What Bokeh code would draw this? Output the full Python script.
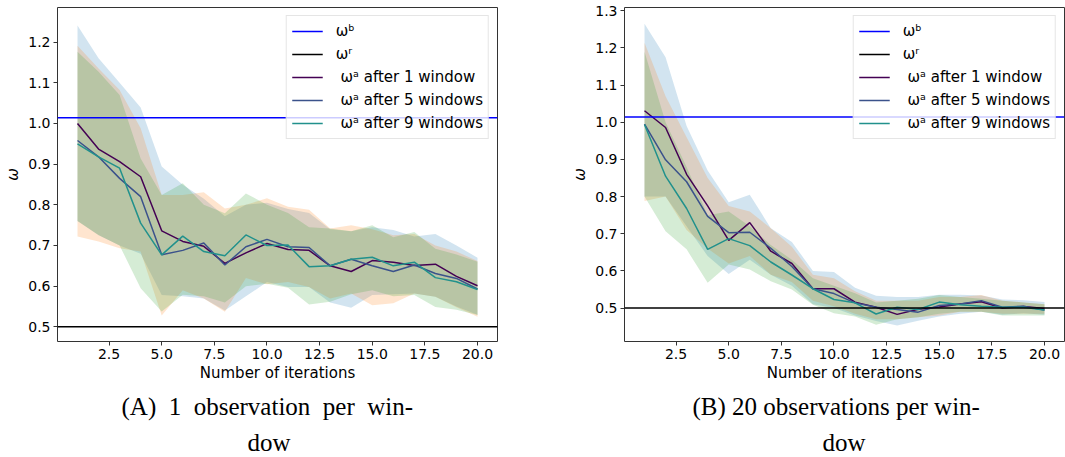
from bokeh.plotting import figure
from bokeh.layouts import row
from bokeh.models import (Range1d, FixedTicker, PrintfTickFormatter, Span,
                          Legend, LegendItem, Title)
from bokeh.embed import file_html
from bokeh.resources import INLINE

# ---- data -----------------------------------------------------------------
iterations = list(range(1, 21))
omega_b = 1.014
omega_r = 0.5

x_ticks = [2.5, 5.0, 7.5, 10.0, 12.5, 15.0, 17.5, 20.0]
left_y_ticks = [0.5, 0.6, 0.7, 0.8, 0.9, 1.0, 1.1, 1.2]
right_y_ticks = [0.5, 0.6, 0.7, 0.8, 0.9, 1.0, 1.1, 1.2, 1.3]

series_labels = ["\u00a0\u03c9\u1d43 after 1 window",
                 "\u00a0\u03c9\u1d43 after 5 windows",
                 "\u00a0\u03c9\u1d43 after 9 windows"]
label_b = "\u03c9\u1d47"
label_r = "\u03c9\u02b3"

# (A) one observation per window
a_w1 = [1.000, 0.937, 0.906, 0.869, 0.736, 0.710, 0.698, 0.656, 0.682, 0.705,
        0.690, 0.688, 0.650, 0.636, 0.663, 0.659, 0.651, 0.654, 0.624, 0.601]
a_w5 = [0.958, 0.918, 0.865, 0.820, 0.677, 0.688, 0.706, 0.652, 0.697, 0.715,
        0.697, 0.695, 0.650, 0.666, 0.650, 0.636, 0.652, 0.631, 0.619, 0.593]
a_w9 = [0.950, 0.918, 0.890, 0.755, 0.677, 0.723, 0.685, 0.675, 0.726, 0.700,
        0.701, 0.648, 0.650, 0.666, 0.671, 0.650, 0.659, 0.621, 0.611, 0.592]

a_w1_hi = [1.241, 1.160, 1.100, 1.039, 0.894, 0.849, 0.815, 0.772, 0.800, 0.805,
           0.790, 0.780, 0.740, 0.735, 0.745, 0.738, 0.722, 0.728, 0.700, 0.670]
a_w1_lo = [0.760, 0.725, 0.700, 0.680, 0.578, 0.575, 0.570, 0.540, 0.575, 0.610,
           0.598, 0.598, 0.560, 0.547, 0.578, 0.580, 0.582, 0.574, 0.550, 0.530]
a_w5_hi = [1.191, 1.135, 1.082, 0.988, 0.824, 0.824, 0.831, 0.791, 0.800, 0.816,
           0.795, 0.788, 0.742, 0.750, 0.740, 0.725, 0.728, 0.700, 0.685, 0.662]
a_w5_lo = [0.722, 0.710, 0.693, 0.685, 0.528, 0.590, 0.570, 0.537, 0.620, 0.605,
           0.610, 0.598, 0.570, 0.582, 0.553, 0.558, 0.582, 0.574, 0.548, 0.525]
a_w9_hi = [1.176, 1.127, 1.070, 0.914, 0.824, 0.853, 0.800, 0.779, 0.828, 0.800,
           0.780, 0.745, 0.742, 0.735, 0.750, 0.720, 0.733, 0.692, 0.678, 0.660]
a_w9_lo = [0.760, 0.726, 0.700, 0.595, 0.538, 0.579, 0.575, 0.560, 0.600, 0.606,
           0.596, 0.555, 0.562, 0.580, 0.590, 0.575, 0.578, 0.549, 0.542, 0.529]

# (B) twenty observations per window
b_w1 = [1.031, 0.986, 0.860, 0.775, 0.682, 0.730, 0.653, 0.620, 0.552, 0.552,
        0.516, 0.502, 0.483, 0.497, 0.503, 0.511, 0.517, 0.500, 0.504, 0.499]
b_w5 = [0.995, 0.899, 0.840, 0.747, 0.703, 0.704, 0.661, 0.612, 0.552, 0.539,
        0.514, 0.502, 0.496, 0.489, 0.507, 0.511, 0.520, 0.502, 0.505, 0.495]
b_w9 = [0.994, 0.855, 0.768, 0.658, 0.687, 0.668, 0.624, 0.589, 0.552, 0.523,
        0.514, 0.484, 0.502, 0.496, 0.516, 0.509, 0.505, 0.502, 0.502, 0.495]

b_w1_hi = [1.265, 1.175, 0.990, 0.870, 0.785, 0.805, 0.715, 0.678, 0.600, 0.597,
           0.555, 0.533, 0.530, 0.530, 0.536, 0.536, 0.534, 0.523, 0.521, 0.516]
b_w1_lo = [0.800, 0.800, 0.720, 0.640, 0.592, 0.630, 0.590, 0.560, 0.510, 0.500,
           0.480, 0.465, 0.453, 0.466, 0.477, 0.485, 0.490, 0.482, 0.486, 0.482]
b_w5_hi = [1.214, 1.070, 0.960, 0.850, 0.775, 0.760, 0.715, 0.665, 0.590, 0.580,
           0.545, 0.520, 0.520, 0.520, 0.530, 0.530, 0.535, 0.520, 0.515, 0.510]
b_w5_lo = [0.788, 0.800, 0.710, 0.660, 0.620, 0.640, 0.590, 0.570, 0.520, 0.505,
           0.485, 0.470, 0.470, 0.475, 0.480, 0.490, 0.490, 0.485, 0.485, 0.485]
b_w9_hi = [1.190, 1.000, 0.880, 0.750, 0.760, 0.720, 0.670, 0.630, 0.580, 0.560,
           0.540, 0.515, 0.520, 0.525, 0.535, 0.530, 0.525, 0.520, 0.515, 0.510]
b_w9_lo = [0.800, 0.707, 0.658, 0.568, 0.617, 0.604, 0.572, 0.550, 0.509, 0.486,
           0.477, 0.455, 0.470, 0.475, 0.485, 0.490, 0.490, 0.480, 0.480, 0.480]

# ---- styling ----------------------------------------------------------------
line_colors = ["#440154", "#3b528b", "#21918c"]
band_colors = ["#1f77b4", "#ff7f0e", "#2ca02c"]
SANS = "DejaVu Sans"
SERIF = "Liberation Serif"
FRAME = "#333333"


def panel(width, border_left, border_right, y_start, y_end, y_ticks,
          means, highs, lows, caption, caption_offsets):
    p = figure(width=width, height=457,
               x_range=Range1d(0.05, 20.95), y_range=Range1d(y_start, y_end),
               output_backend="svg", toolbar_location=None,
               min_border_left=border_left, min_border_right=border_right,
               min_border_top=7, min_border_bottom=116)
    p.grid.visible = False
    p.outline_line_color = FRAME
    p.outline_line_width = 1
    p.outline_line_alpha = 1
    p.background_fill_color = "white"

    # spread bands
    for hi, lo, color in zip(highs, lows, band_colors):
        p.varea(x=iterations, y1=lo, y2=hi, fill_color=color, fill_alpha=0.2)

    # reference levels: full-width spans, plus one-point lines that only
    # serve as legend handles
    p.add_layout(Span(location=omega_b, dimension="width",
                      line_color="#0000ff", line_width=1.5))
    p.add_layout(Span(location=omega_r, dimension="width",
                      line_color="black", line_width=1.5))
    r_b = p.line(x=iterations[:1], y=[omega_b], line_color="#0000ff",
                 line_width=1.5)
    r_r = p.line(x=iterations[:1], y=[omega_r], line_color="black",
                 line_width=1.5)

    items = [LegendItem(label=label_b, renderers=[r_b]),
             LegendItem(label=label_r, renderers=[r_r])]
    for m, color, lab in zip(means, line_colors, series_labels):
        r = p.line(x=iterations, y=m, line_color=color, line_width=1.5)
        items.append(LegendItem(label=lab, renderers=[r]))

    legend = Legend(items=items, location="top_right", margin=8, padding=5,
                    spacing=3, glyph_width=31, glyph_height=20,
                    label_height=20, label_standoff=13,
                    label_text_font=SANS, label_text_font_size="15px",
                    label_text_color="black",
                    background_fill_color="white", background_fill_alpha=0.8,
                    border_line_color="#cccccc", border_line_width=1)
    p.add_layout(legend)

    for ax in (p.xaxis, p.yaxis):
        ax.axis_line_color = None
        ax.major_tick_line_color = FRAME
        ax.major_tick_out = 4
        ax.major_tick_in = 0
        ax.minor_tick_out = 0
        ax.minor_tick_in = 0
        ax.major_label_text_font = SANS
        ax.major_label_text_font_size = "14px"
        ax.major_label_text_color = "black"
        ax.axis_label_text_font = SANS
        ax.axis_label_text_font_size = "15px"
        ax.axis_label_text_color = "black"
        ax.major_label_standoff = 3
        ax.formatter = PrintfTickFormatter(format="%.1f")

    p.xaxis.ticker = FixedTicker(ticks=x_ticks)
    p.yaxis.ticker = FixedTicker(ticks=y_ticks)
    p.xaxis.axis_label = "Number of iterations"
    p.xaxis.axis_label_text_font_style = "normal"
    p.xaxis.axis_label_standoff = 2
    p.yaxis.axis_label = "\u03c9"
    p.yaxis.axis_label_text_font_style = "italic"
    p.yaxis.axis_label_standoff = 3

    # two-line caption under the panel, placed from the frame's left edge
    for text, standoff, off in zip(caption, (13, 0), caption_offsets):
        p.add_layout(Title(text=text, align="left", text_font=SERIF,
                           text_font_size="25px", text_font_style="normal",
                           text_color="black", standoff=standoff,
                           offset=off), "below")
    return p


left = panel(560, 57, 63, 0.464, 1.285, left_y_ticks,
             [a_w1, a_w5, a_w9],
             [a_w1_hi, a_w5_hi, a_w9_hi], [a_w1_lo, a_w5_lo, a_w9_lo],
             ["(A)\u00a0\u00a01\u00a0\u00a0observation\u00a0\u00a0per\u00a0\u00a0win-", "dow"],
             (64, 190))
right = panel(505, 64, 1, 0.41, 1.309, right_y_ticks,
              [b_w1, b_w5, b_w9],
              [b_w1_hi, b_w5_hi, b_w9_hi], [b_w1_lo, b_w5_lo, b_w9_lo],
              ["(B) 20 observations per win-", "dow"],
              (68, 198))

layout = row(left, right)
open("out.html", "w").write(file_html(layout, INLINE))
